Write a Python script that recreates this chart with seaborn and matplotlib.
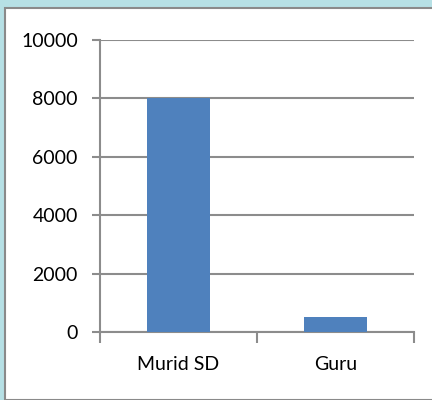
import matplotlib
import pandas as pd
import seaborn as sns

matplotlib.use("Agg")
import matplotlib.pyplot as plt
from matplotlib.patches import Rectangle

categories = ["Murid SD", "Guru"]
values = [8000, 500]
y_ticks = [0, 2000, 4000, 6000, 8000, 10000]

sns.set_style("white")
plt.rcParams["font.family"] = ["Lato", "DejaVu Sans"]

df = pd.DataFrame({"kategori": categories, "jumlah": values})

fig = plt.figure(figsize=(4.32, 4.0), dpi=100, facecolor="#b6e0e5")
# white chart box with grey border, kept behind the axes
fig.patches.append(
    Rectangle((5 / 432, 0), 1.0, 392 / 400, transform=fig.transFigure,
              facecolor="white", edgecolor="#8a8a8a", linewidth=1.5, zorder=-10)
)
ax = fig.add_axes([100 / 432, 68 / 400, 314 / 432, 292 / 400])
ax.set_facecolor("none")

sns.barplot(data=df, x="kategori", y="jumlah", color="#4f81bd",
            width=0.4, saturation=1, linewidth=0, ax=ax, zorder=3)

ax.set_ylim(0, 10000)
ax.set_xlim(-0.5, 1.5)
ax.set_yticks(y_ticks)
ax.set_yticklabels([str(v) for v in y_ticks])
ax.yaxis.grid(True, color="#8c8c8c", linewidth=1.5)
ax.set_axisbelow(True)

ax.set_xlabel("")
ax.set_ylabel("")
for side in ["top", "right"]:
    ax.spines[side].set_visible(False)
for side in ["left", "bottom"]:
    ax.spines[side].set_color("#8c8c8c")
    ax.spines[side].set_linewidth(1.5)

ax.set_xticks([-0.5, 0.5, 1.5], minor=True)
ax.tick_params(axis="x", which="major", bottom=True, length=0, pad=17,
               labelsize=14, labelcolor="black")
ax.tick_params(axis="x", which="minor", bottom=True, length=8, width=1.5,
               color="#8c8c8c", direction="out")
ax.tick_params(axis="y", left=True, length=6, width=1.5, color="#8c8c8c",
               pad=10, labelsize=14, labelcolor="black", direction="out")

fig.savefig("out.png", dpi=100, facecolor=fig.get_facecolor())
